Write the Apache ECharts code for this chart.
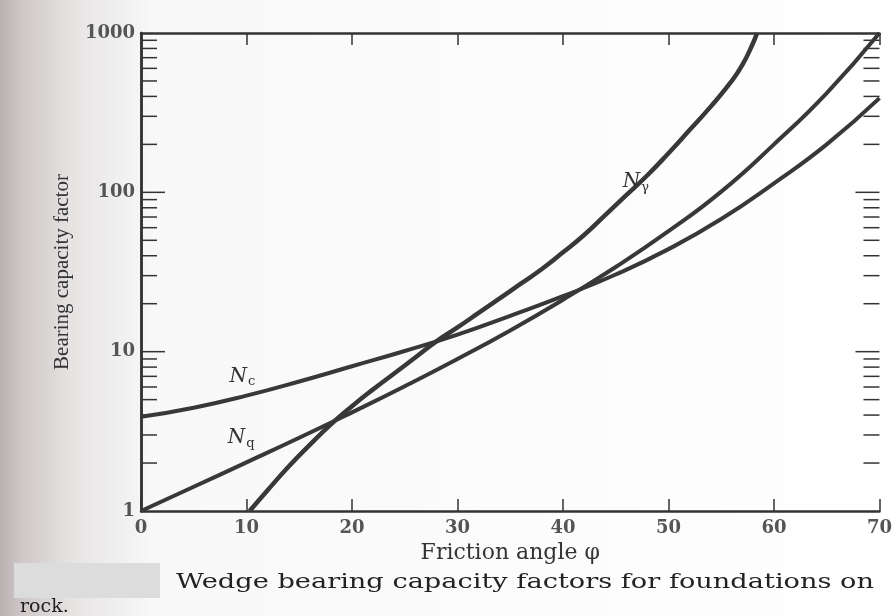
<!DOCTYPE html>
<html style="height: 100%;width: 100%">
<head>
<meta charset="utf-8">
<script src="https://cdn.jsdelivr.net/npm/echarts@6/dist/echarts.min.js"></script>
<style>
  html, body { margin: 0; padding: 0; }
  #container { width: 895px; height: 616px; }
</style>
</head>
<body>
<div id="container"></div>
<script type="text/javascript">
// values (friction angle in degrees)
var phiNc = [0, 5, 10, 15, 20, 25, 30, 35, 40, 45, 50, 55, 60, 65, 70];
var ncVals = [3.9, 4.45, 5.3, 6.5, 8.1, 10.1, 12.8, 16.8, 22.3, 30.5, 44, 68, 114, 200, 390];

var phiNq = [0, 5, 10, 15, 20, 25, 30, 35, 40, 45, 50, 55, 60, 65, 70];
var nqVals = [1, 1.42, 2.02, 2.88, 4.16, 6.07, 9.0, 13.6, 21.2, 34, 57, 101, 200, 420, 1000];

var phiNg = [10.3, 12, 14, 16, 18, 20, 22, 24, 26, 28, 30, 32, 34, 36, 38, 40, 42, 44, 46, 48, 50, 52, 54, 56, 57, 58, 58.4];
var ngVals = [1, 1.35, 1.9, 2.6, 3.5, 4.55, 5.8, 7.3, 9.2, 11.6, 14.2, 17.5, 21.6, 26.7, 33, 42, 54, 72, 96, 128, 176, 246, 345, 500, 630, 860, 1000];

var xTicks = [0, 10, 20, 30, 40, 50, 60, 70];
var yTicks = [1, 10, 100, 1000];
var yTickMarks = [2, 3, 4, 5, 6, 7, 8, 9, 10, 20, 30, 40, 50, 60, 70, 80, 90, 100, 200, 300, 400, 500, 600, 700, 800, 900];

// label anchors, in data space
var ncLabelAt = [9.6, 7.0];
var nqLabelAt = [9.5, 2.87];
var ngLabelAt = [46.9, 116];

function pairs(xs, ys) {
    var out = [];
    for (var i = 0; i < xs.length; i++) out.push([xs[i], ys[i]]);
    return out;
}

var ink = '#383838';
var serif = 'DejaVu Serif';

function curveLabel(at, sub) {
    return {
        symbol: 'rect',
        symbolSize: 1,
        silent: true,
        itemStyle: { color: 'transparent' },
        label: {
            show: true,
            position: 'inside',
            formatter: '{n|N}{s|' + sub + '}',
            rich: {
                n: { fontFamily: serif, fontStyle: 'italic', fontSize: 20, color: '#333' },
                s: { fontFamily: serif, fontSize: 13, color: '#333', padding: [11, 0, 0, 1] }
            }
        },
        data: [{ coord: at }]
    };
}

var dom = document.getElementById('container');
var myChart = echarts.init(dom);

var option = {
    animation: false,
    backgroundColor: {
        type: 'linear', x: 0, y: 0, x2: 1, y2: 0,
        colorStops: [
            { offset: 0, color: '#bab1b2' },
            { offset: 0.025, color: '#cfc8c8' },
            { offset: 0.08, color: '#e6e3e3' },
            { offset: 0.17, color: '#f8f8f8' },
            { offset: 1, color: '#ffffff' }
        ]
    },
    grid: { left: 141, right: 12, top: 33, bottom: 105 },
    xAxis: [{
        type: 'value',
        min: 0, max: 70, interval: 10,
        name: 'Friction angle \u03c6',
        nameLocation: 'middle',
        nameGap: 28,
        nameTextStyle: { fontFamily: serif, fontSize: 22, color: '#333' },
        axisLine: { lineStyle: { color: '#333', width: 2.5 } },
        axisTick: { inside: true, length: 12, lineStyle: { color: '#333', width: 1.5 } },
        axisLabel: { fontFamily: serif, fontSize: 18, fontWeight: 'bold', color: '#555', margin: 8,
            customValues: xTicks },
        splitLine: { show: false }
    }, {
        type: 'value',
        position: 'top',
        min: 0, max: 70, interval: 10,
        axisLine: { lineStyle: { color: '#333', width: 2.5 } },
        axisTick: { inside: true, length: 12, lineStyle: { color: '#333', width: 1.5 } },
        axisLabel: { show: false },
        splitLine: { show: false }
    }],
    yAxis: [{
        type: 'log',
        logBase: 10,
        min: 1, max: 1000,
        name: 'Bearing capacity factor',
        nameLocation: 'middle',
        nameRotate: 90,
        nameGap: 68,
        nameTextStyle: { fontFamily: 'Liberation Serif', fontSize: 21, color: '#333' },
        axisLine: { show: true, lineStyle: { color: '#333', width: 2.5 } },
        axisTick: { show: false },
        axisLabel: { fontFamily: serif, fontSize: 18, fontWeight: 'bold', color: '#555', margin: 6,
            formatter: function (v) { return yTicks.indexOf(Math.round(v)) >= 0 ? String(Math.round(v)) : ''; } },
        splitLine: { show: false }
    }, {
        type: 'log',
        logBase: 10,
        min: 1, max: 1000,
        position: 'right',
        axisLine: { show: true, lineStyle: { color: '#333', width: 2.5 } },
        axisTick: { show: false },
        axisLabel: { show: false },
        splitLine: { show: false }
    }],
    series: [{
        name: 'y ticks',
        type: 'custom',
        silent: true,
        clip: false,
        data: yTickMarks.map(function (v) { return [0, v]; }),
        renderItem: function (params, api) {
            var v = api.value(1);
            var len = yTicks.indexOf(v) >= 0 ? 24 : 16;
            var p = api.coord([0, v]);
            var q = api.coord([70, v]);
            var st = { stroke: '#333', lineWidth: 1.5 };
            return {
                type: 'group',
                children: [
                    { type: 'line', shape: { x1: p[0], y1: p[1], x2: p[0] + len, y2: p[1] }, style: st },
                    { type: 'line', shape: { x1: q[0] - len, y1: q[1], x2: q[0], y2: q[1] }, style: st }
                ]
            };
        }
    }, {
        name: 'Nc',
        type: 'line',
        smooth: true,
        showSymbol: false,
        lineStyle: { color: ink, width: 4 },
        data: pairs(phiNc, ncVals),
        markPoint: curveLabel(ncLabelAt, 'c')
    }, {
        name: 'Nq',
        type: 'line',
        smooth: true,
        showSymbol: false,
        lineStyle: { color: ink, width: 4 },
        data: pairs(phiNq, nqVals),
        markPoint: curveLabel(nqLabelAt, 'q')
    }, {
        name: 'Ngamma',
        type: 'line',
        smooth: true,
        showSymbol: false,
        lineStyle: { color: ink, width: 4.5 },
        data: pairs(phiNg, ngVals),
        markPoint: curveLabel(ngLabelAt, '\u03b3')
    }],
    graphic: [
        { type: 'rect', left: 14, top: 563, shape: { width: 146, height: 35 }, style: { fill: '#dcdcdc' } },
        { type: 'text', x: 176, y: 573, scaleX: 1.36,
          style: { text: 'Wedge bearing capacity factors for foundations on', font: '20px "DejaVu Serif"', fill: '#222' } },
        { type: 'text', x: 20, y: 598,
          style: { text: 'rock.', font: '19px "DejaVu Serif"', fill: '#222' } }
    ]
};

myChart.setOption(option);
</script>
</body>
</html>
